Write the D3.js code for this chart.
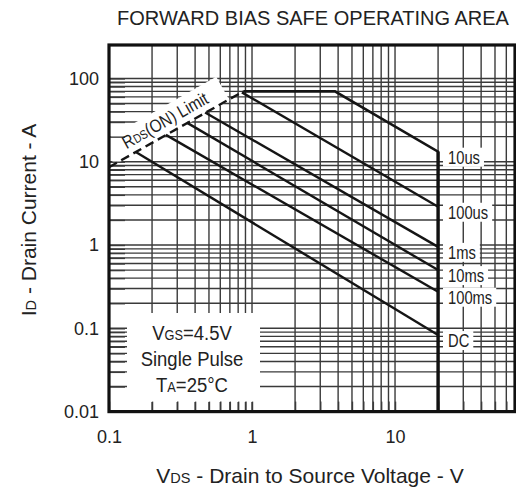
<!DOCTYPE html>
<html><head><meta charset="utf-8">
<script src="https://cdn.jsdelivr.net/npm/d3@7"></script>
<style>
body{margin:0;background:#fff}
svg{display:block}
text{font-family:"Liberation Sans",Arial,Helvetica,sans-serif;fill:#222}
</style>
</head><body>
<svg id="c" width="516" height="488"></svg>
<script>
// ---- data ----
const xTickValues = [0.1, 1, 10];
const xTickLabels = ["0.1", "1", "10"];
const yTickValues = [0.01, 0.1, 1, 10, 100];
const yTickLabels = ["0.01", "0.1", "1", "10", "100"];
const rdsLimit = [[0.1, 8.6], [0.87, 70]];
const curveNames = ["10us", "100us", "1ms", "10ms", "100ms", "DC"];
const curve10us  = [[0.87, 70], [3.8, 70], [20, 13.2], [20, 0.01]];
const curve100us = [[0.85, 68], [20, 2.88]];
const curve1ms   = [[0.47, 39], [20, 0.95]];
const curve10ms  = [[0.35, 29.5], [20, 0.50]];
const curve100ms = [[0.25, 21], [20, 0.275]];
const curveDC    = [[0.155, 13], [20, 0.083]];
const curveEnds  = [13.2, 2.88, 0.95, 0.50, 0.275, 0.083];
const noteLines  = ["VGS=4.5V", "Single Pulse", "TA=25°C"];

// ---- layout ----
const L = 109, R = 515, T = 45, B = 411.6;
const svg = d3.select("#c");
const x = d3.scaleLog().domain([0.1, 69]).range([L, R]);
const y = d3.scaleLog().domain([0.01, 252]).range([B, T]);
const xMinor = x.ticks();
const yMinor = y.ticks().filter(v => v <= 100.0001);

// grid
const grid = svg.append("g").attr("stroke", "#3a3a3a").attr("stroke-width", 1.4);
grid.selectAll("line.v").data(xMinor).join("line").attr("class", "v")
  .attr("x1", d => x(d)).attr("x2", d => x(d)).attr("y1", T).attr("y2", B);
grid.selectAll("line.h").data(yMinor).join("line").attr("class", "h")
  .attr("x1", L).attr("x2", R).attr("y1", d => y(d)).attr("y2", d => y(d));

// white masks
const masks = svg.append("g").attr("fill", "#fff");
masks.append("rect").attr("x", 127).attr("y", 313).attr("width", 133).attr("height", 89);

// Rds label frame
const ang = Math.atan2(y(rdsLimit[0][1]) - y(rdsLimit[1][1]), x(rdsLimit[1][0]) - x(rdsLimit[0][0])) * 180 / Math.PI;
const vA = 0.2737;
const iA = rdsLimit[0][1] * Math.pow(vA / rdsLimit[0][0],
  Math.log(rdsLimit[1][1] / rdsLimit[0][1]) / Math.log(rdsLimit[1][0] / rdsLimit[0][0]));
const rdsG = `translate(${x(vA)},${y(iA)}) rotate(${-ang})`;
masks.append("rect").attr("transform", rdsG).attr("x", -66).attr("y", -26).attr("width", 132).attr("height", 27);

// right label masks & texts (built later)
const labelG = svg.append("g");

// inner ticks
const tickL = svg.append("g").attr("transform", `translate(${L},0)`)
  .call(d3.axisLeft(y).tickValues(yMinor).tickSize(-16).tickFormat(""));
const tickB = svg.append("g").attr("transform", `translate(0,${B})`)
  .call(d3.axisBottom(x).tickValues(xMinor).tickSize(-10).tickFormat(""));
[tickL, tickB].forEach(g => {
  g.select(".domain").remove();
  g.selectAll("line").attr("stroke", "#3a3a3a").attr("stroke-width", 1.4);
});

// curves
const line = d3.line().x(d => x(d[0])).y(d => y(d[1]));
const curves = [curve10us, curve100us, curve1ms, curve10ms, curve100ms, curveDC];
svg.append("g").selectAll("path").data(curves).join("path")
  .attr("d", line).attr("fill", "none").attr("stroke", "#151515")
  .attr("stroke-width", (d, i) => i === 0 ? 2.6 : 2.4).attr("stroke-linejoin", "miter");
svg.append("path").datum(rdsLimit).attr("d", line).attr("fill", "none")
  .attr("stroke", "#151515").attr("stroke-width", 2.4).attr("stroke-dasharray", "9,5");
// bold 20V line
svg.append("path").datum([[20, 13.2], [20, 0.01]]).attr("d", line)
  .attr("stroke", "#111").attr("stroke-width", 3.2);

// border
svg.append("rect").attr("x", L).attr("y", T).attr("width", R - L).attr("height", B - T)
  .attr("fill", "none").attr("stroke", "#111").attr("stroke-width", 3.2);

// right labels
curveNames.forEach((name, i) => {
  const cy = y(curveEnds[i]) + 5.5;
  const g = labelG.append("g").attr("transform", `translate(448,${cy})`);
  const rect = g.append("rect").attr("fill", "#fff");
  const t = g.append("text").attr("transform", "scale(0.82,1)")
    .attr("dominant-baseline", "central").attr("font-size", 18).text(name);
  const w = t.node().getComputedTextLength() * 0.82;
  rect.attr("x", -5).attr("y", -9.5).attr("width", w + 9).attr("height", 19);
});

// Rds label text
const rl = svg.append("g").attr("transform", rdsG).append("text")
  .attr("transform", "translate(0,-7) scale(0.85,1)").attr("text-anchor", "middle").attr("font-size", 18);
rl.append("tspan").text("R");
rl.append("tspan").attr("font-size", 12.5).text("DS");
rl.append("tspan").text("(ON) Limit");

// note text
const note = [[noteLines[0], 340], [noteLines[1], 366], [noteLines[2], 392]];
note.forEach(([s, by], i) => {
  const t = svg.append("g").attr("transform", `translate(192,${by}) scale(0.88,1)`)
    .append("text").attr("text-anchor", "middle").attr("font-size", 21);
  if (i === 0) {
    t.append("tspan").text("V");
    t.append("tspan").attr("font-size", 14.5).text("GS");
    t.append("tspan").text("=4.5V");
  } else if (i === 2) {
    t.append("tspan").text("T");
    t.append("tspan").attr("font-size", 14.5).text("A");
    t.append("tspan").text("=25°C");
  } else t.text(s);
});

// tick labels
const ax = svg.append("g").attr("transform", `translate(0,${B})`)
  .call(d3.axisBottom(x).tickValues(xTickValues).tickSize(0).tickPadding(19)
    .tickFormat((d, i) => xTickLabels[i]));
const ay = svg.append("g").attr("transform", `translate(${L},0)`)
  .call(d3.axisLeft(y).tickValues(yTickValues).tickSize(0).tickPadding(10)
    .tickFormat((d, i) => yTickLabels[i]));
[ax, ay].forEach(g => {
  g.select(".domain").remove();
  g.selectAll("text").attr("font-size", 18).attr("font-family", '"Liberation Sans",Arial,sans-serif').attr("fill", "#222");
});

// titles
svg.append("text").attr("x", 313).attr("y", 25).attr("text-anchor", "middle")
  .attr("font-size", 20).text("FORWARD BIAS SAFE OPERATING AREA");
const xt = svg.append("text").attr("x", 310).attr("y", 483).attr("text-anchor", "middle").attr("font-size", 21);
xt.append("tspan").text("V");
xt.append("tspan").attr("font-size", 14.5).text("DS");
xt.append("tspan").text(" - Drain to Source Voltage - V");
const yt = svg.append("text").attr("transform", "translate(36,220) rotate(-90)")
  .attr("text-anchor", "middle").attr("font-size", 21);
yt.append("tspan").text("I");
yt.append("tspan").attr("font-size", 14.5).text("D");
yt.append("tspan").text(" - Drain Current - A");
</script>
</body></html>
